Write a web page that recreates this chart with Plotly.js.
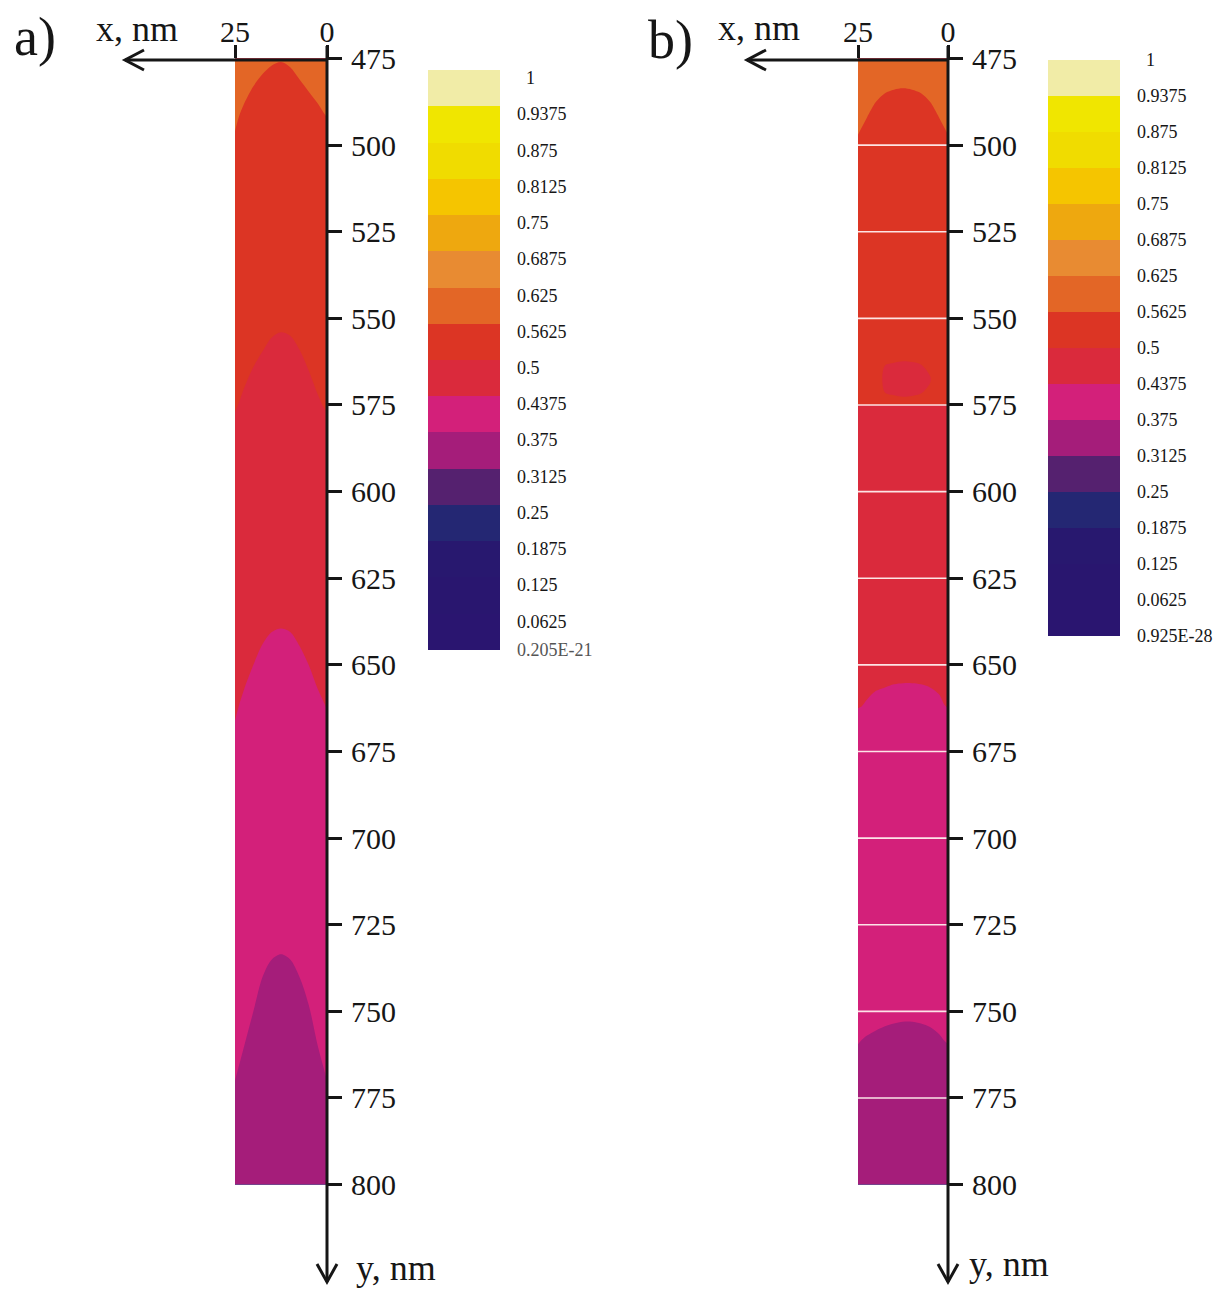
<!DOCTYPE html>
<html>
<head>
<meta charset="utf-8">
<script src="https://cdn.plot.ly/plotly-3.0.1.min.js"></script>
<style>html,body{margin:0;padding:0;background:#fff;}</style>
</head>
<body>
<div id="chart" style="width:1229px;height:1291px;"></div>
<script>
// ---------------- data ----------------
// x columns (nm) across the strip, 0 at the right-hand axis
const xCols = [0, 1, 2.5, 5, 7.5, 10, 12.5, 15, 17.5, 20, 22.5, 24, 25];

// Panel a: depth y (nm) at which each contour level crosses each x column
const aLevel05625 = [492, 490.5, 488, 484.5, 481, 477.5, 476, 477, 479.5, 483, 488, 492, 496];
const aLevel05    = [577, 575.5, 572, 565, 559, 555, 554, 555.5, 559.5, 564, 570, 574.5, 577];
const aLevel04375 = [663, 660.5, 657, 650, 644.5, 640.5, 639.5, 640.5, 644, 650, 657, 662, 666];
const aLevel0375  = [770, 766, 760, 748, 740, 735, 733.5, 735, 740, 750, 760, 766, 770];

// Panel b
const bLevel05625 = [497, 495, 492, 487.5, 485, 484, 483.6, 484, 485, 487.5, 492, 495, 497];
const bLevel05Flat = 575;
const bBlobTop    = [null, null, null, 566.3, 563.3, 562.6, 562.4, 562.8, 563.6, null, null, null, null];
const bBlobBottom = [null, null, null, 568.7, 571.7, 572.4, 572.6, 572.2, 571.4, null, null, null, null];
const bLevel04375 = [662.5, 661.5, 658.5, 656.5, 655.6, 655.3, 655.3, 655.6, 656.5, 657.5, 660, 662, 662.5];
const bLevel0375  = [759.5, 758.5, 756.5, 754.5, 753.5, 753, 753, 753.5, 754.3, 755.5, 757, 758.3, 759.5];
const bottomValue = 0.34;

// colour levels and labels
const levelTicks = [0, 0.0625, 0.125, 0.1875, 0.25, 0.3125, 0.375, 0.4375, 0.5,
                    0.5625, 0.625, 0.6875, 0.75, 0.8125, 0.875, 0.9375, 1];
const aLabels = ['<span style="color:#555">0.205E-21</span>', '0.0625', '0.125', '0.1875', '0.25', '0.3125',
                 '0.375', '0.4375', '0.5', '0.5625', '0.625', '0.6875', '0.75', '0.8125', '0.875', '0.9375', '\u00a0\u00a01'];
const bLabels = ['0.925E-28', '0.0625', '0.125', '0.1875', '0.25', '0.3125',
                 '0.375', '0.4375', '0.5', '0.5625', '0.625', '0.6875', '0.75', '0.8125', '0.875', '0.9375', '\u00a0\u00a01'];
const bandColors = ['#2A1570', '#29166F', '#28186F', '#242773', '#55216F', '#A51D7A', '#D3207A', '#DA2A3C',
                    '#DC3524', '#E36626', '#E88B32', '#EEA80F', '#F5C500', '#F0DC00', '#F0E600', '#F1ECA7'];
const yTicks = [475, 500, 525, 550, 575, 600, 625, 650, 675, 700, 725, 750, 775, 800];
const xTicks = [25, 0];

// ---------------- build the grids ----------------
const SLOPE = 0.001;
function bandRows(level, cross, yTop, yBot) {
  return [[yTop, cross.map(c => level + SLOPE * (c - yTop))],
          [yBot, cross.map(c => level + SLOPE * (c - yBot))]];
}
function blobRows(level, flat, top, bot) {
  const r1 = xCols.map(() => level + 0.015);
  const r2 = top.map(t => t == null ? level + 0.01 : level + 0.015 - 0.015 * 17.5 / (t - 550));
  const r3 = r2.map((zc, i) => bot[i] == null ? level + 0.005 : zc + (level - zc) * 6 / (bot[i] - 567.5));
  const r4 = r3.map(z2 => z2 - (z2 - level) * 3.5 / (flat - 573.5));
  return [[550, r1], [567.5, r2], [573.5, r3], [577, r4]];
}
const aRows = [
  ...bandRows(0.5625, aLevel05625, 475, 505),
  ...bandRows(0.5, aLevel05, 548, 582),
  ...bandRows(0.4375, aLevel04375, 634, 672),
  ...bandRows(0.375, aLevel0375, 728, 776),
  [800, xCols.map(() => bottomValue)]
];
const bRows = [
  ...bandRows(0.5625, bLevel05625, 475, 505),
  ...blobRows(0.5, bLevel05Flat, bBlobTop, bBlobBottom),
  ...bandRows(0.4375, bLevel04375, 645, 672),
  ...bandRows(0.375, bLevel0375, 745, 775),
  [800, xCols.map(() => bottomValue)]
];

const W = 1229, H = 1291;
const PX = v => v / W, PY = v => 1 - v / H;
const FONT = 'Liberation Serif';
const INK = '#161616';

// colourscale: white guard bands outside [0,1], 16 discrete bands inside
const nB = bandColors.length + 2;
const colorscale = [[0, '#ffffff']]
  .concat(bandColors.map((c, i) => [(i + 1) / (nB - 1), c]))
  .concat([[1, '#ffffff']]);

function cbar(xLeft, topPx, barLen, labels, shift) {
  const half = barLen / 16 / 2;
  return {
    x: PX(xLeft), xanchor: 'left', xref: 'paper', xpad: 0,
    y: PY(topPx - half), yanchor: 'top', yref: 'paper', ypad: 0,
    len: barLen + 2 * half, lenmode: 'pixels',
    thickness: 72, thicknessmode: 'pixels',
    outlinewidth: 0,
    tickmode: 'array',
    tickvals: levelTicks.map(v => (v === 0 ? 0 : v - shift)),
    ticktext: labels,
    ticks: 'outside', ticklen: 14, tickcolor: 'rgba(0,0,0,0)',
    tickfont: {family: FONT, size: 18, color: INK}
  };
}

function contourTrace(rows, xa, ya, cb) {
  return {
    type: 'contour',
    x: xCols,
    y: rows.map(r => r[0]),
    z: rows.map(r => r[1]),
    xaxis: xa, yaxis: ya,
    autocontour: false,
    contours: {start: 0, end: 1, size: 0.0625, coloring: 'fill', showlines: false},
    line: {width: 0, smoothing: 0.9},
    colorscale: colorscale,
    showscale: true,
    colorbar: cb,
    hoverinfo: 'skip'
  };
}

const traces = [
  contourTrace(aRows, 'x', 'y', cbar(428, 70, 580, aLabels, 0.0135)),
  contourTrace(bRows, 'x2', 'y2', cbar(1048, 60, 576, bLabels, 0))
];

function xAxis(l, r, anchor) {
  return {
    domain: [PX(l), PX(r)], range: [25, 0], side: 'top', anchor: anchor,
    tickmode: 'array', tickvals: xTicks, ticks: 'outside', ticklen: 13, tickwidth: 3, tickcolor: INK,
    showline: false, showgrid: false, zeroline: false, fixedrange: true,
    tickfont: {family: FONT, size: 30, color: INK}, ticklabelstandoff: -9
  };
}
function yAxis(anchor) {
  return {
    domain: [PY(1184.6), PY(58.5)], range: [800, 475], side: 'right', anchor: anchor,
    tickmode: 'array', tickvals: yTicks, ticks: 'outside', ticklen: 14, tickwidth: 3, tickcolor: INK,
    showline: false, showgrid: false, zeroline: false, fixedrange: true,
    tickfont: {family: FONT, size: 30, color: INK}, ticklabelstandoff: 3
  };
}

const shapes = [];
// panel b white grid lines at the inner ticks
yTicks.slice(1, -1).forEach(v => shapes.push({
  type: 'line', xref: 'x2', yref: 'y2', x0: 25, x1: 0, y0: v, y1: v,
  line: {color: 'rgba(255,238,238,0.95)', width: 1.6}, layer: 'above'
}));
function axisArrows(tipX, axX, tipY) {
  const ln = {color: INK, width: 3};
  shapes.push({type: 'line', xref: 'paper', yref: 'paper', x0: PX(tipX), x1: PX(axX), y0: PY(60), y1: PY(60), line: ln, layer: 'above'});
  shapes.push({type: 'path', xref: 'paper', yref: 'paper', layer: 'above', line: ln,
    path: `M ${PX(tipX + 19)} ${PY(50)} L ${PX(tipX)} ${PY(60)} L ${PX(tipX + 19)} ${PY(70)}`});
  shapes.push({type: 'line', xref: 'paper', yref: 'paper', x0: PX(axX), x1: PX(axX), y0: PY(46), y1: PY(tipY), line: ln, layer: 'above'});
  shapes.push({type: 'path', xref: 'paper', yref: 'paper', layer: 'above', line: ln,
    path: `M ${PX(axX - 10)} ${PY(tipY - 18)} L ${PX(axX)} ${PY(tipY)} L ${PX(axX + 10)} ${PY(tipY - 18)}`});
}
axisArrows(125, 327, 1282);
axisArrows(747, 948, 1282);

function txt(text, x, y, size) {
  return {text: text, x: PX(x), y: PY(y), xref: 'paper', yref: 'paper', xanchor: 'left', yanchor: 'middle',
          showarrow: false, font: {family: FONT, size: size, color: INK}};
}
const annotations = [
  txt('a)', 12, 37, 54), txt('x, nm', 94, 29, 36), txt('y, nm', 354, 1268, 36),
  txt('b)', 646, 40, 54), txt('x, nm', 716, 28, 36), txt('y, nm', 967, 1264, 36)
];

const layout = {
  width: W, height: H,
  margin: {l: 0, r: 0, t: 0, b: 0, autoexpand: false},
  paper_bgcolor: '#ffffff', plot_bgcolor: '#ffffff',
  showlegend: false,
  xaxis: xAxis(235, 327, 'y'), yaxis: yAxis('x'),
  xaxis2: xAxis(858, 948, 'y2'), yaxis2: yAxis('x2'),
  shapes: shapes, annotations: annotations
};

Plotly.newPlot('chart', traces, layout, {staticPlot: true, displayModeBar: false});
</script>
</body>
</html>
